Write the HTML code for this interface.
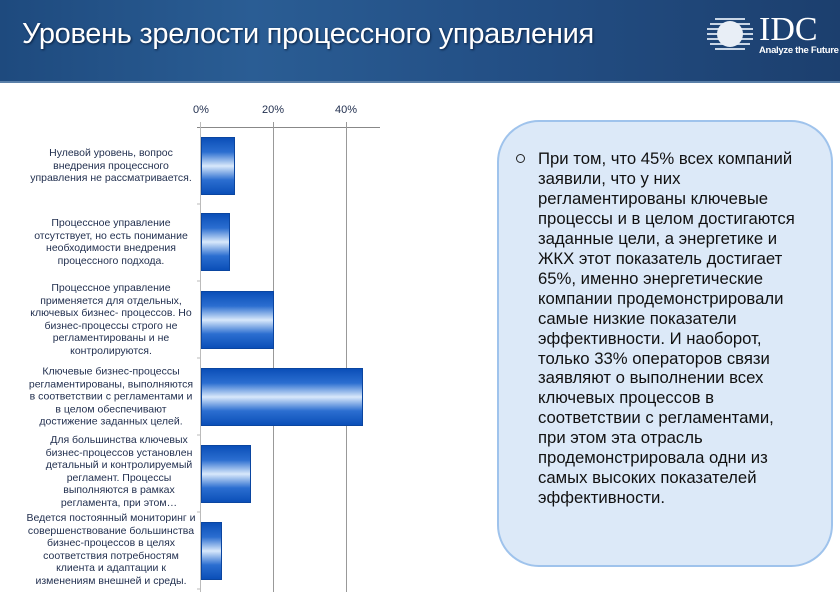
<!DOCTYPE html>
<html><head><meta charset="utf-8"><style>
body{margin:0;width:840px;height:592px;overflow:hidden;background:#fff;font-family:"Liberation Sans",sans-serif;position:relative}
.hdr{position:absolute;left:0;top:0;width:840px;height:81px;background:linear-gradient(90deg,#1e4a7e 0%,#2a5d94 30%,#234f85 60%,#1c3f6e 100%);border-bottom:2px solid #5a7fa8}
.title{position:absolute;left:22px;top:18px;color:#fff;font-size:29px;letter-spacing:-0.3px;text-shadow:1px 1px 2px #0a2040}
.lbl{position:absolute;left:20px;width:182px;text-align:center;font-size:10.5px;line-height:12.6px;color:#1f2d4d;transform:translateY(-50%)}
.bar{position:absolute;left:201px;height:58px;background:linear-gradient(180deg,#0b4fb8 0%,#2b6ed0 25%,#d8e8fb 50%,#2b6ed0 75%,#0b4fb8 100%);border:1px solid #0a45a0;box-sizing:border-box}
.tick{position:absolute;font-size:11px;color:#1f2d4d;top:104px}
.box{position:absolute;left:497px;top:120px;width:336px;height:447px;box-sizing:border-box;border:2px solid #9fc3ec;border-radius:42px;background:#dce9f8}
.txt{position:absolute;left:538px;top:149px;width:300px;font-size:16.7px;line-height:19.95px;color:#111;white-space:nowrap}
</style></head><body>
<div class="hdr"></div>
<div class="title">Уровень зрелости процессного управления</div>
<svg style="position:absolute;left:705px;top:16px" width="50" height="40">
<g fill="#c9d6e6"><rect x="10" y="2" width="30" height="2"/><rect x="5" y="7" width="40" height="2"/><rect x="2" y="12" width="46" height="2"/><rect x="2" y="17" width="46" height="2"/><rect x="2" y="22" width="46" height="2"/><rect x="5" y="27" width="40" height="2"/><rect x="10" y="32" width="30" height="2"/></g>
<circle cx="25" cy="18" r="13" fill="#e8eef6"/></svg>
<div style="position:absolute;left:759px;top:13px;color:#fff;font-family:'Liberation Serif',serif;font-size:34px;line-height:34px">IDC</div>
<div style="position:absolute;left:759px;top:45px;color:#fff;font-size:9.5px;font-weight:bold;letter-spacing:-0.3px">Analyze the Future</div>

<div class="tick" style="left:193px">0%</div>
<div class="tick" style="left:262px">20%</div>
<div class="tick" style="left:335px">40%</div>
<svg style="position:absolute;left:0;top:0" width="840" height="592">
<line x1="197" y1="127.5" x2="380" y2="127.5" stroke="#888" stroke-width="1"/>
<line x1="273.5" y1="122" x2="273.5" y2="592" stroke="#999"/>
<line x1="346.5" y1="122" x2="346.5" y2="592" stroke="#999"/>
<line x1="200.5" y1="122" x2="200.5" y2="592" stroke="#bbb"/>
<g stroke="#bbb"><line x1="197" y1="204" x2="201" y2="204"/><line x1="197" y1="281" x2="201" y2="281"/><line x1="197" y1="358" x2="201" y2="358"/><line x1="197" y1="435" x2="201" y2="435"/><line x1="197" y1="512" x2="201" y2="512"/><line x1="197" y1="589" x2="201" y2="589"/></g>
</svg>
<div class="bar" style="top:137px;width:34px"></div>
<div class="bar" style="top:213px;width:29px"></div>
<div class="bar" style="top:291px;width:73px"></div>
<div class="bar" style="top:368px;width:162px"></div>
<div class="bar" style="top:445px;width:50px"></div>
<div class="bar" style="top:522px;width:21px"></div>

<div class="lbl" style="top:166px">Нулевой уровень, вопрос<br>внедрения процессного<br>управления не рассматривается.</div>
<div class="lbl" style="top:242px">Процессное управление<br>отсутствует, но есть понимание<br>необходимости внедрения<br>процессного подхода.</div>
<div class="lbl" style="top:320px">Процессное управление<br>применяется для отдельных,<br>ключевых бизнес- процессов. Но<br>бизнес-процессы строго не<br>регламентированы и не<br>контролируются.</div>
<div class="lbl" style="top:397px">Ключевые бизнес-процессы<br>регламентированы, выполняются<br>в соответствии с регламентами и<br>в целом обеспечивают<br>достижение заданных целей.</div>
<div class="lbl" style="top:472px;left:28px">Для большинства ключевых<br>бизнес-процессов установлен<br>детальный и контролируемый<br>регламент. Процессы<br>выполняются в рамках<br>регламента, при этом…</div>
<div class="lbl" style="top:550px">Ведется постоянный мониторинг и<br>совершенствование большинства<br>бизнес-процессов в целях<br>соответствия потребностям<br>клиента и адаптации к<br>изменениям внешней и среды.</div>

<div class="box"></div>
<div style="position:absolute;left:516px;top:154px;width:7px;height:7px;border:1.3px solid #222;border-radius:50%"></div>
<div class="txt">При том, что 45% всех компаний<br>заявили, что у них<br>регламентированы ключевые<br>процессы и в целом достигаются<br>заданные цели, а энергетике и<br>ЖКХ этот показатель достигает<br>65%, именно энергетические<br>компании продемонстрировали<br>самые низкие показатели<br>эффективности. И наоборот,<br>только 33% операторов связи<br>заявляют о выполнении всех<br>ключевых процессов в<br>соответствии с регламентами,<br>при этом эта отрасль<br>продемонстрировала одни из<br>самых высоких показателей<br>эффективности.</div>
</body></html>
